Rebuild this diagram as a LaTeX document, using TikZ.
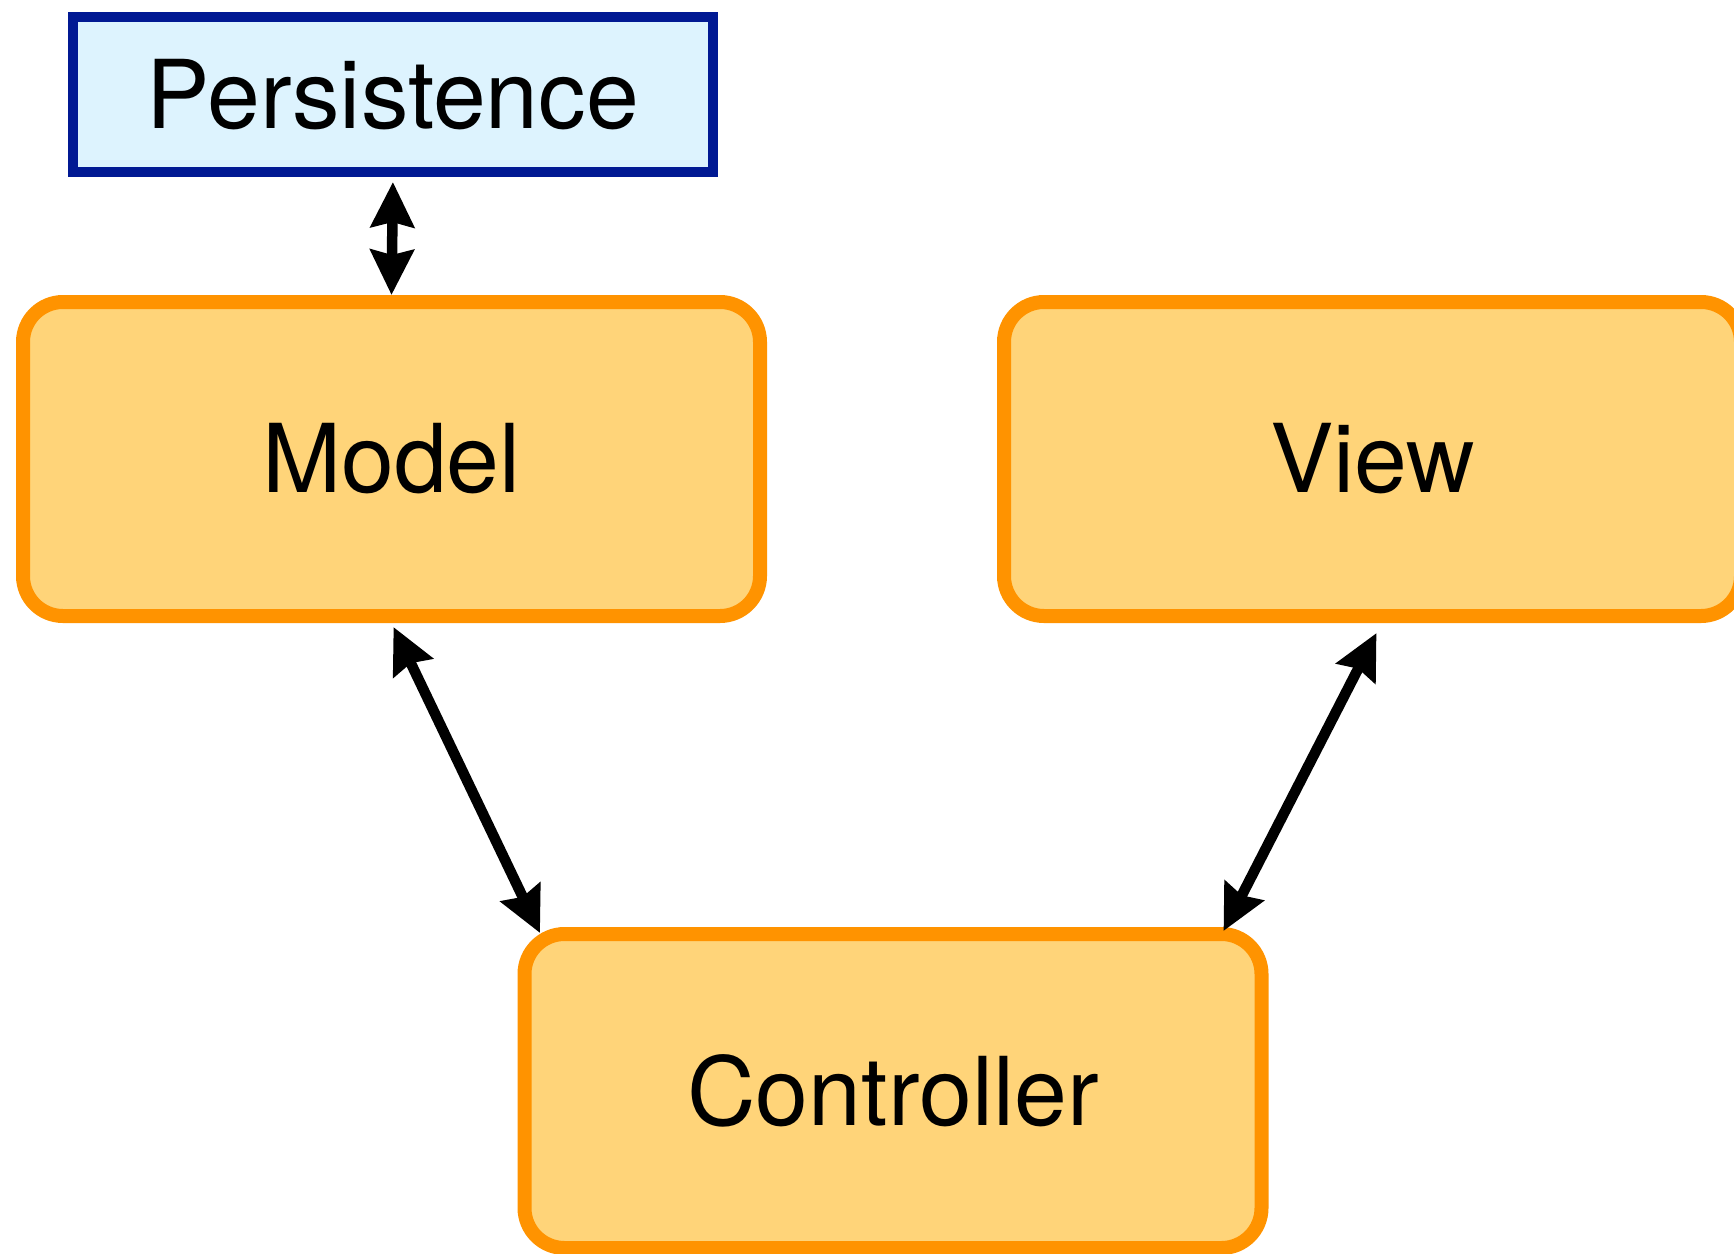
\documentclass[tikz,border=0pt]{standalone}
\usepackage{fontspec}
\setmainfont{TeX Gyre Heros}
\usetikzlibrary{arrows.meta,calc}

\definecolor{boxorange}{HTML}{FF9300}
\definecolor{boxfill}{HTML}{FFD479}
\definecolor{persblue}{HTML}{011993}
\definecolor{persfill}{HTML}{DDF3FE}

\begin{document}
\begin{tikzpicture}[x=1pt,y=1pt,yscale=-1,xscale=1,
        mvcbox/.style={draw=boxorange, fill=boxfill, line width=14pt, rounded corners=40pt,
            minimum width=737pt, minimum height=314pt, font=\fontsize{95}{110}\selectfont},
        persbox/.style={draw=persblue, fill=persfill, line width=10pt,
            minimum width=640pt, minimum height=155pt, font=\fontsize{95}{110}\selectfont},
        link/.style={line width=10.5pt, {Stealth[length=45pt,width=43pt,inset=5pt]}-{Stealth[length=45pt,width=43pt,inset=5pt]}}]
        %set diagram left start at 0, size of the reference
        \useasboundingbox (0,0) rectangle (1734,1253);

        %Shape: Rectangle [persistence]
        \node [persbox] (pers) at (393,94.5) {Persistence};
        %Shape: Rounded Rect [model]
        \node [mvcbox] (model) at (391.5,459) {Model};
        %Shape: Rounded Rect [view]
        \node [mvcbox] (view) at (1372.5,459) {View};
        %Shape: Rounded Rect [controller]
        \node [mvcbox] (ctrl) at (893,1091) {Controller};

        %Straight Lines [persistence - model]
        \draw [link, shorten <=5pt] (pers.south) -- (model.north);
        %Straight Lines [model - controller]
        \draw [link] ($(model.south)+(2,4)$) -- ($(ctrl.north west)+(22.5,6)$);
        %Straight Lines [view - controller]
        \draw [link] ($(view.south)+(4,10)$) -- ($(ctrl.north east)+(-45,4)$);
    \end{tikzpicture}
\end{document}
